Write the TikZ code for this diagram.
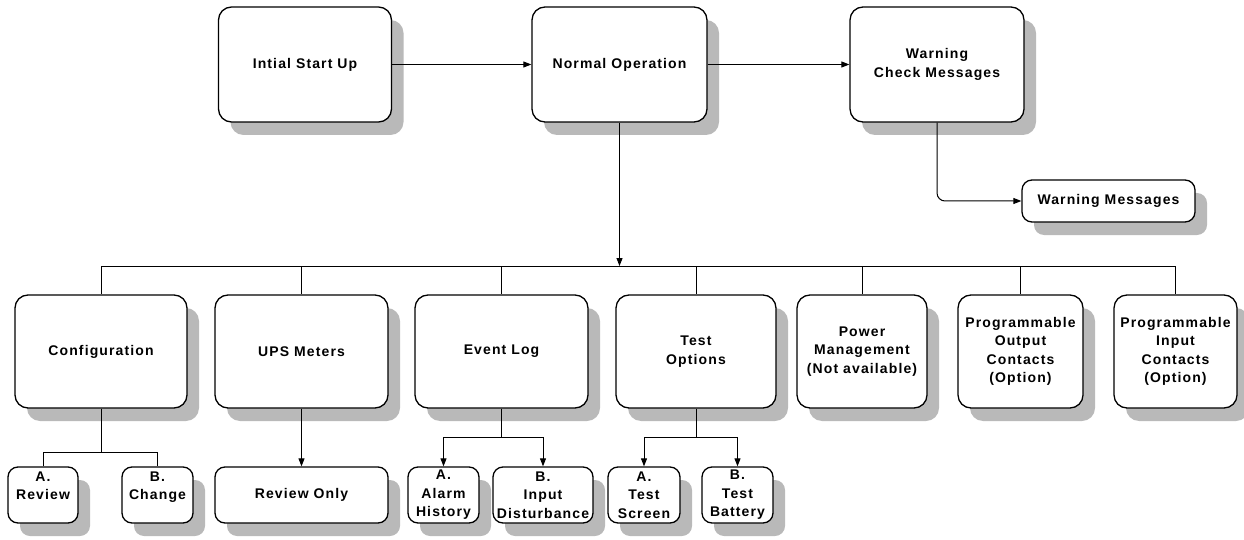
\documentclass[tikz,border=0pt]{standalone}
\usepackage{fontspec}
\setmainfont{Liberation Sans}[LetterSpace=8]
\usetikzlibrary{arrows.meta,shadows}

\begin{document}
\begin{tikzpicture}[x=1pt,y=-1pt,
        font=\fontsize{14}{18.5}\selectfont\bfseries,
        box/.style={draw, line width=1.3pt, rounded corners=13pt, fill=white, align=center, inner sep=2pt,
            drop shadow={shadow xshift=12pt, shadow yshift=-13pt, fill=gray!55, opacity=1}},
        sub/.style={box, rounded corners=10pt, minimum height=56pt},
        link/.style={line width=1pt},
        arr/.style={link, -{Triangle[length=8pt,width=6pt]}}]
        \useasboundingbox (0,0) rectangle (1244,540);
        % top row
        \node[box, minimum width=173pt, minimum height=115pt] (init) at (305,64.5) {Intial Start Up};
        \node[box, minimum width=175pt, minimum height=115pt] (norm) at (619.5,64.5) {Normal Operation};
        \node[box, minimum width=174pt, minimum height=115pt] (warn) at (937,64.5) {Warning\\Check Messages};
        \node[box, rounded corners=10pt, minimum width=173pt, minimum height=42pt] (wmsg) at (1108.5,201) {Warning Messages};
        \draw[arr] (init) -- (norm);
        \draw[arr] (norm) -- (warn);
        \draw[arr, rounded corners=8pt] (warn.south) |- (wmsg.west);
        % menu row
        \foreach \n/\x/\w/\txt in {cfg/101/172/Configuration, ups/301.5/173/UPS Meters, evt/501.5/173/Event Log,
                tst/696/160/Test\\Options, pwr/862/130/Power\\Management\\(Not available),
                pout/1020.5/125/Programmable\\Output\\Contacts\\(Option), pin/1175.5/123/Programmable\\Input\\Contacts\\(Option)}
            \node[box, minimum width=\w pt, minimum height=113pt] (\n) at (\x,351.5) {\txt};
        \coordinate (bus) at (619.5,266);
        \draw[arr] (norm.south) -- (bus);
        \draw[link] (cfg.north |- bus) -- (pin.north |- bus);
        \foreach \n in {cfg,ups,evt,tst,pwr,pout,pin}
            \draw[link] (\n.north |- bus) -- (\n.north);
        % sub menus
        \node[sub, minimum width=70pt] (rev) at (43,495) {A.\\Review\\\mbox{}};
        \node[sub, minimum width=71pt] (chg) at (157.5,495) {B.\\Change\\\mbox{}};
        \node[sub, minimum width=173pt] (ronly) at (301.5,495) {Review Only};
        \node[sub, minimum width=71pt] (alarm) at (443.5,495) {A.\\Alarm\\History};
        \node[sub, minimum width=100pt] (inp) at (543,495) {B.\\Input\\Disturbance};
        \node[sub, minimum width=72pt] (tscr) at (644,495) {A.\\Test\\Screen};
        \node[sub, minimum width=71pt] (tbat) at (737.5,495) {B.\\Test\\Battery};
        \draw[link] (cfg.south) -- ++(0,44) coordinate (cfgsplit);
        \draw[link] (rev.north) |- (cfgsplit) -| (chg.north);
        \draw[arr] (ups.south) -- (ronly.north);
        \draw[link] (evt.south) -- ++(0,29) coordinate (evtsplit);
        \draw[arr] (evtsplit) -| (alarm.north);
        \draw[arr] (evtsplit) -| (inp.north);
        \draw[link] (tst.south) -- ++(0,29) coordinate (tstsplit);
        \draw[arr] (tstsplit) -| (tscr.north);
        \draw[arr] (tstsplit) -| (tbat.north);
\end{tikzpicture}
\end{document}
